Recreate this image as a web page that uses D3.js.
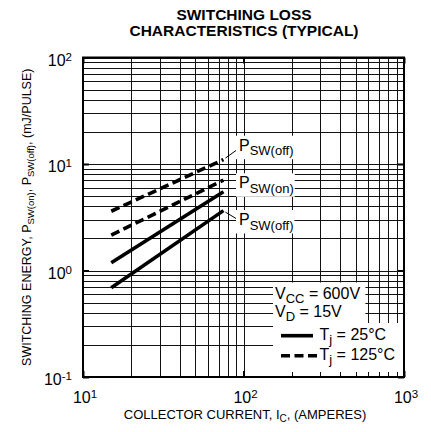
<!DOCTYPE html>
<html><head><meta charset="utf-8">
<script src="https://cdn.jsdelivr.net/npm/d3@7"></script>
<style>
html,body{margin:0;padding:0;background:#fff;}
svg{display:block;font-family:"Liberation Sans",Arial,Helvetica,sans-serif;}
</style></head><body>
<svg id="chart" width="431" height="432"></svg>
<script>
// ---- data ----
const collectorCurrent = [15, 75];            // A
const pswOff125 = [3.6, 11.0];                // mJ, Tj = 125°C
const pswOn125  = [2.15, 7.05];
const pswOn25   = [1.18, 5.5];                // mJ, Tj = 25°C
const pswOff25  = [0.69, 3.65];
const xDecades = [10, 100, 1000];
const xDecadeExp = ["1", "2", "3"];
const yDecades = [0.1, 1, 10, 100];
const yDecadeExp = ["-1", "0", "1", "2"];
const titleLines = ["SWITCHING LOSS", "CHARACTERISTICS (TYPICAL)"];
const legendConds = [["V", "CC", " = 600V"], ["V", "D", " = 15V"]];
const legendTemps = [["T", "j", " = 25°C", false], ["T", "j", " = 125°C", true]];
const curveLabels = [["P", "SW(off)"], ["P", "SW(on)"], ["P", "SW(off)"]];

const series = [
  {values: pswOff125, dashed: true},
  {values: pswOn125, dashed: true},
  {values: pswOn25, dashed: false},
  {values: pswOff25, dashed: false}
];

// ---- layout ----
const L = 83, R = 404, T = 57.5, B = 377;
const svg = d3.select("#chart");
svg.append("rect").attr("width", 431).attr("height", 432).attr("fill", "#fff");

const x = d3.scaleLog().domain([10, 1000]).range([L, R]);
const y = d3.scaleLog().domain([0.1, 100]).range([B, T]);

// grid
const gridX = svg.append("g").attr("transform", `translate(0,${B})`)
  .call(d3.axisBottom(x).tickValues(x.ticks()).tickSize(-(B - T)).tickFormat(""));
const gridY = svg.append("g").attr("transform", `translate(${L},0)`)
  .call(d3.axisLeft(y).tickValues(y.ticks()).tickSize(-(R - L)).tickFormat(""));
[gridX, gridY].forEach(g => {
  g.select(".domain").remove();
  g.selectAll("line").attr("stroke", "#111").attr("stroke-width", 1).attr("shape-rendering", "crispEdges");
});

// layer for label boxes
const boxLayer = svg.append("g");

// data lines
const line = d3.line().x((d, i) => x(collectorCurrent[i])).y(d => y(d));
svg.append("g").selectAll("path").data(series).join("path")
  .attr("d", d => line(d.values))
  .attr("fill", "none").attr("stroke", "#000").attr("stroke-width", 3.6)
  .attr("stroke-dasharray", d => d.dashed ? "9,4.5" : null);

// curve labels
const labelPos = [[239, 150.7], [239, 188.3], [239, 225]];
const labelG = svg.append("g");
curveLabels.forEach((lab, i) => {
  const t = labelG.append("text").attr("x", labelPos[i][0]).attr("y", labelPos[i][1]);
  t.append("tspan").attr("font-size", 16).text(lab[0]);
  t.append("tspan").attr("font-size", 13).attr("dy", 4.5).text(lab[1]);
  const bb = t.node().getBBox();
  boxLayer.append("rect").attr("x", bb.x - 3).attr("y", bb.y - 1)
    .attr("width", bb.width + 4).attr("height", bb.height + 2).attr("fill", "#fff");
});
// leaders
const leaders = [
  [x(collectorCurrent[1]) + 2, y(pswOff125[1]) - 1.5, 236, 150.5],
  [x(collectorCurrent[1]) + 2, y(pswOff25[1]) + 1.5, 236, 218.5]
];
svg.append("g").selectAll("line").data(leaders).join("line")
  .attr("x1", d => d[0]).attr("y1", d => d[1]).attr("x2", d => d[2]).attr("y2", d => d[3])
  .attr("stroke", "#000").attr("stroke-width", 1);

// legend
const legG = svg.append("g");
const condBase = [298.5, 316.5];
const condG = legG.append("g");
legendConds.forEach((c, i) => {
  const t = condG.append("text").attr("x", 275).attr("y", condBase[i]).attr("font-size", 16);
  t.append("tspan").text(c[0]);
  t.append("tspan").attr("font-size", 13).attr("dy", 4).text(c[1]);
  t.append("tspan").attr("dy", -4).text(c[2]);
});
const cb = condG.node().getBBox();
boxLayer.append("rect").attr("x", 273).attr("y", cb.y - 2).attr("width", cb.x + cb.width + 5 - 273)
  .attr("height", cb.height + 4).attr("fill", "#fff");
const tempBase = [340, 360];
const tempG = legG.append("g");
legendTemps.forEach((c, i) => {
  tempG.append("line").attr("x1", 281).attr("x2", c[3] ? 318 : 313)
    .attr("y1", tempBase[i] - 4.3).attr("y2", tempBase[i] - 4.3)
    .attr("stroke", "#000").attr("stroke-width", 3.6)
    .attr("stroke-dasharray", c[3] ? "9,4.5" : null);
  const t = tempG.append("text").attr("x", 319.5).attr("y", tempBase[i]).attr("font-size", 16);
  t.append("tspan").text(c[0]);
  t.append("tspan").attr("font-size", 13).attr("dy", 4).text(c[1]);
  t.append("tspan").attr("dy", -4).text(c[2]);
});
const tb = tempG.node().getBBox();
boxLayer.append("rect").attr("x", 273).attr("y", tb.y - 3).attr("width", R - 1 - 273)
  .attr("height", B - 5 - (tb.y - 3)).attr("fill", "#fff");

// frame
svg.append("rect").attr("x", L).attr("y", T).attr("width", R - L).attr("height", B - T)
  .attr("fill", "none").attr("stroke", "#000").attr("stroke-width", 2);

// major ticks
function styleMajor(g) {
  g.select(".domain").remove();
  g.attr("font-family", null).attr("font-size", null);
  g.selectAll("line").attr("stroke", "#000").attr("stroke-width", 2);
}
svg.append("g").attr("transform", `translate(0,${T})`)
  .call(d3.axisTop(x).tickValues(xDecades).tickSizeInner(-6).tickSizeOuter(0).tickFormat("")).call(styleMajor);
svg.append("g").attr("transform", `translate(${R},0)`)
  .call(d3.axisRight(y).tickValues(yDecades).tickSizeInner(-6).tickSizeOuter(0).tickFormat("")).call(styleMajor);

const xAx = svg.append("g").attr("transform", `translate(0,${B})`)
  .call(d3.axisBottom(x).tickValues(xDecades).tickSizeInner(-6).tickSizeOuter(0).tickFormat("")).call(styleMajor);
xAx.selectAll(".tick text").remove();
xAx.selectAll(".tick").each(function(d, i) {
  const t = d3.select(this).append("text").attr("x", 1.5).attr("y", 26)
    .attr("text-anchor", "middle").attr("fill", "#000").attr("font-size", 16);
  t.append("tspan").text("10");
  t.append("tspan").attr("font-size", 11.5).attr("dy", -5).text(xDecadeExp[i]);
});
const yAx = svg.append("g").attr("transform", `translate(${L},0)`)
  .call(d3.axisLeft(y).tickValues(yDecades).tickSizeInner(-6).tickSizeOuter(0).tickFormat("")).call(styleMajor);
yAx.selectAll(".tick text").remove();
yAx.selectAll(".tick").each(function(d, i) {
  const t = d3.select(this).append("text").attr("x", -11).attr("y", 7.5)
    .attr("text-anchor", "end").attr("fill", "#000").attr("font-size", 16);
  t.append("tspan").text("10");
  t.append("tspan").attr("font-size", 11.5).attr("dy", -5).text(yDecadeExp[i]);
});

// titles
svg.append("g").selectAll("text").data(titleLines).join("text")
  .attr("x", 244).attr("y", (d, i) => 20 + i * 16).attr("text-anchor", "middle")
  .attr("font-weight", "bold").attr("font-size", 15.5).text(d => d);

const xt = svg.append("text").attr("x", 245).attr("y", 419).attr("text-anchor", "middle").attr("font-size", 13);
xt.append("tspan").text("COLLECTOR CURRENT, I");
xt.append("tspan").attr("font-size", 10).attr("dy", 3).text("C");
xt.append("tspan").attr("dy", -3).text(", (AMPERES)");

const yt = svg.append("text").attr("transform", `translate(31,${(T + B) / 2}) rotate(-90)`)
  .attr("text-anchor", "middle").attr("font-size", 12.5);
yt.append("tspan").text("SWITCHING ENERGY, P");
yt.append("tspan").attr("font-size", 9.5).attr("dy", 3).text("SW(on)");
yt.append("tspan").attr("dy", -3).text(", P");
yt.append("tspan").attr("font-size", 9.5).attr("dy", 3).text("SW(off)");
yt.append("tspan").attr("dy", -3).text(", (mJ/PULSE)");
</script>
</body></html>
